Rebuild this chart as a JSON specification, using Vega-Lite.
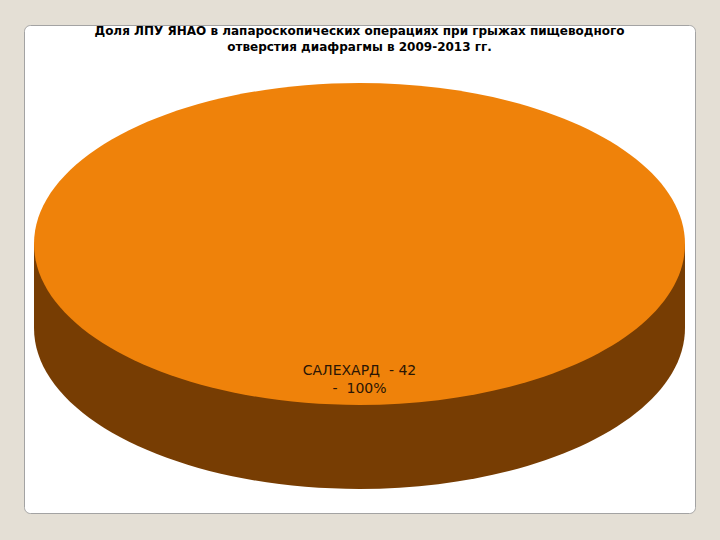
{
  "$schema": "https://vega.github.io/schema/vega-lite/v6.json",
  "width": 671,
  "height": 488,
  "autosize": {"type": "none"},
  "padding": {"left": 24, "top": 25, "right": 25, "bottom": 27},
  "background": "#e4dfd5",
  "view": {"fill": "#ffffff", "stroke": "#a3a3a3", "strokeWidth": 1, "cornerRadius": 6},
  "title": {
    "text": ["Доля ЛПУ ЯНАО в лапароскопических операциях при грыжах пищеводного", "отверстия диафрагмы в 2009-2013 гг."],
    "orient": "top",
    "anchor": "middle",
    "baseline": "top",
    "offset": 0,
    "dy": 29,
    "font": "DejaVu Sans",
    "fontSize": 12,
    "fontWeight": "bold",
    "color": "#000000",
    "lineHeight": 16
  },
  "data": {
    "values": [
      {"city": "САЛЕХАРД", "count": 42, "percent": 100}
    ]
  },
  "transform": [
    {"calculate": "datum.city + '\u00a0\u00a0-\u00a0' + datum.count + '\\n-\u00a0\u00a0' + datum.percent + '%'", "as": "label"}
  ],
  "layer": [
    {
      "mark": {
        "type": "point",
        "shape": "M -1 -0.0768 L -1 0.1813 C -1 0.4545 -0.5523 0.6759 0 0.6759 C 0.5523 0.6759 1 0.4545 1 0.1813 L 1 -0.0768 Z",
        "size": 423801,
        "filled": true,
        "opacity": 1,
        "strokeWidth": 0,
        "color": "#773d03"
      },
      "encoding": {
        "tooltip": [{"field": "city"}, {"field": "count"}]
      }
    },
    {
      "mark": {
        "type": "point",
        "shape": "M -1 -0.0768 C -1 -0.35 -0.5523 -0.5714 0 -0.5714 C 0.5523 -0.5714 1 -0.35 1 -0.0768 C 1 0.1964 0.5523 0.4178 0 0.4178 C -0.5523 0.4178 -1 0.1964 -1 -0.0768 Z",
        "size": 423801,
        "filled": true,
        "opacity": 1,
        "strokeWidth": 0,
        "color": "#ef820a"
      },
      "encoding": {
        "tooltip": [{"field": "city"}, {"field": "percent"}]
      }
    },
    {
      "mark": {
        "type": "text",
        "font": "DejaVu Sans",
        "fontSize": 14,
        "align": "center",
        "baseline": "alphabetic",
        "lineBreak": "\n",
        "lineHeight": 18,
        "dy": 106,
        "color": "#2a1505"
      },
      "encoding": {
        "text": {"field": "label"}
      }
    }
  ]
}
